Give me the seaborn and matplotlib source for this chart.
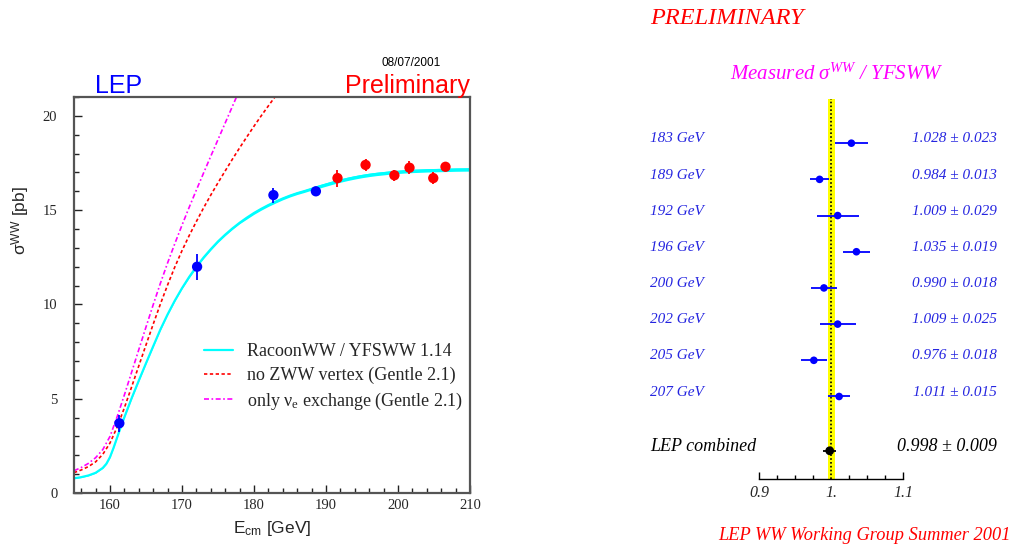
import numpy as np
import pandas as pd
import seaborn as sns
import matplotlib.pyplot as plt
from matplotlib.ticker import MultipleLocator, FixedLocator

# LEP W-pair cross section measurements
E_data = [161.3, 172.1, 182.7, 188.6, 191.6, 195.5, 199.5, 201.6, 204.9, 206.6]
sig_data = [3.7, 12.0, 15.8, 16.0, 16.7, 17.4, 16.85, 17.25, 16.7, 17.3]
sig_err = [0.45, 0.7, 0.4, 0.22, 0.45, 0.3, 0.3, 0.35, 0.3, 0.25]
pt_col = ['#0000ff'] * 4 + ['#ff0000'] * 6

# theory curves
E_racoon = [155, 156, 157, 158, 158.5, 159, 159.5, 160, 160.5, 161, 161.5, 162, 163, 164, 165, 166,
            167, 168, 169, 170, 171, 172, 173, 174, 175, 176, 177, 178, 179, 180, 181, 182, 183,
            184, 185, 186, 187, 188, 189, 190, 191, 192, 193, 194, 195, 196, 197, 198, 199, 200,
            201, 202, 204, 206, 208, 210]
sig_racoon = [0.78, 0.84, 0.93, 1.07, 1.2, 1.33, 1.55, 1.9, 2.4, 2.95, 3.5, 4.02, 5.02, 5.96, 6.88, 7.78,
              8.67, 9.47, 10.2, 10.86, 11.46, 12.0, 12.49, 12.93, 13.34, 13.7, 14.03, 14.33, 14.6,
              14.85, 15.07, 15.27, 15.45, 15.62, 15.77, 15.9, 16.01, 16.13, 16.25, 16.36, 16.47,
              16.57, 16.66, 16.74, 16.81, 16.87, 16.92, 16.96, 17.0, 17.03, 17.06, 17.08, 17.11,
              17.13, 17.15, 17.16]
band_racoon = [0.02] * 12 + [0.03] * 8 + [0.05] * 8 + [0.07] * 10 + [0.09] * 18

E_nozww = [155, 156, 157, 158, 159, 160, 161, 162, 163, 164, 165, 166, 167, 168, 169, 170, 171,
           172, 173, 174, 175, 176, 177, 178, 179, 180, 181, 182, 183]
sig_nozww = [1.08, 1.22, 1.4, 1.65, 2.05, 2.65, 3.5, 4.52, 5.62, 6.74, 7.85, 8.95, 10.02, 11.03,
             11.98, 12.85, 13.65, 14.4, 15.12, 15.8, 16.45, 17.08, 17.7, 18.3, 18.88, 19.45, 20.0,
             20.53, 21.05]

E_nue = [155, 156, 157, 158, 159, 160, 161, 162, 163, 164, 165, 166, 167, 168, 169, 170, 171,
         172, 173, 174, 175, 176, 177, 178]
sig_nue = [1.18, 1.35, 1.57, 1.87, 2.3, 3.0, 4.05, 5.2, 6.4, 7.6, 8.8, 9.98, 11.12, 12.2, 13.22,
           14.2, 15.15, 16.07, 16.97, 17.86, 18.74, 19.62, 20.5, 21.38]

# ratio to YFSWW per energy
ratio_labels = ['183 GeV', '189 GeV', '192 GeV', '196 GeV', '200 GeV', '202 GeV', '205 GeV', '207 GeV']
ratio_val = [1.028, 0.984, 1.009, 1.035, 0.990, 1.009, 0.976, 1.011]
ratio_err = [0.023, 0.013, 0.029, 0.019, 0.018, 0.025, 0.018, 0.015]
comb_val = 0.998
comb_err = 0.009

sns.set_theme(style='ticks')
plt.rcParams['font.family'] = ['Liberation Sans', 'DejaVu Sans']
plt.rcParams['mathtext.fontset'] = 'custom'
plt.rcParams['mathtext.rm'] = 'Liberation Sans'
plt.rcParams['mathtext.sf'] = 'Liberation Serif'
plt.rcParams['mathtext.it'] = 'Liberation Serif:italic'

fig = plt.figure(figsize=(10.12, 5.45), dpi=100)
fig.patch.set_facecolor('white')

# ---------------- left panel ----------------
ax = fig.add_axes([0.0731, 0.0954, 0.3913, 0.7266])
ax.set_facecolor('white')

ax.fill_between(E_racoon, np.array(sig_racoon) - np.array(band_racoon),
                np.array(sig_racoon) + np.array(band_racoon), color='#00ffff', lw=0, zorder=2)
sns.lineplot(x=E_racoon, y=sig_racoon, ax=ax, color='#00ffff', lw=1.6, zorder=2,
             label='RacoonWW / YFSWW 1.14')
sns.lineplot(x=E_nozww, y=sig_nozww, ax=ax, color='#ff0000', lw=1.2, zorder=2,
             linestyle=(0, (2, 1.5)), label='no ZWW vertex (Gentle 2.1)')
sns.lineplot(x=E_nue, y=sig_nue, ax=ax, color='#ff00ff', lw=1.2, zorder=2,
             linestyle=(0, (3, 1.5, 1, 1.5)), label=r'only ν$_{\mathsf{e}}$ exchange (Gentle 2.1)')

for x, y, e, c in zip(E_data, sig_data, sig_err, pt_col):
    ax.errorbar(x, y, yerr=e, fmt='none', ecolor=c, elinewidth=1.3, zorder=3)
df_pts = pd.DataFrame({'E': E_data, 'sig': sig_data, 'col': pt_col})
sns.scatterplot(data=df_pts, x='E', y='sig', hue='col', palette={'#0000ff': '#0000ff', '#ff0000': '#ff0000'},
                s=55, edgecolor='none', ax=ax, zorder=4, legend=False)

ax.set_xlim(155, 210)
ax.set_ylim(0, 21)
ax.xaxis.set_major_locator(MultipleLocator(10))
ax.xaxis.set_minor_locator(MultipleLocator(2))
ax.yaxis.set_major_locator(MultipleLocator(5))
ax.yaxis.set_minor_locator(MultipleLocator(1))
ax.tick_params(which='both', direction='in', color='#222222', width=1, top=False, right=False)
ax.tick_params(which='major', length=6)
ax.tick_params(which='minor', length=3.5)
ax.tick_params(axis='y', pad=12)
ax.tick_params(axis='x', pad=4)
for lab in ax.get_xticklabels() + ax.get_yticklabels():
    lab.set_fontfamily('Liberation Serif')
    lab.set_fontsize(10.5)
for sp in ax.spines.values():
    sp.set_color('#555555')
    sp.set_linewidth(1.6)

ax.set_xlabel(r'E$_{\mathrm{cm}}$ [GeV]', fontsize=12.5)
ax.xaxis.set_label_coords(0.5, -0.066)
ax.set_ylabel(r'σ$^{\mathrm{WW}}$ [pb]', fontsize=12.5)
ax.yaxis.set_label_coords(-0.105, 0.689)

leg = ax.legend(loc='upper left', bbox_to_anchor=(0.328, 0.378), frameon=False,
                prop={'family': 'Liberation Serif', 'size': 13}, handlelength=1.6,
                handletextpad=0.8, labelspacing=0.36, borderpad=0, borderaxespad=0)

fig.text(0.0939, 0.8294, 'LEP', color='#0000ff', fontsize=18, ha='left', va='baseline')
fig.text(0.4644, 0.8294, 'Preliminary', color='#ff0000', fontsize=18, ha='right', va='baseline')
fig.text(0.4358, 0.879, '08/07/2001', color='black', fontsize=8.5, ha='right', va='baseline')

# ---------------- right panel ----------------
ax2 = fig.add_axes([0.6324, 0.1211, 0.3676, 0.6972])
ax2.set_facecolor('none')
rows = np.arange(len(ratio_val))
comb_row = len(ratio_val) - 1 + 1.5

ax2.axvspan(0.995, 1.005, color='#ffff00', lw=0, zorder=1)
ax2.axvline(1.0, color='black', lw=1.2, ls=(0, (1, 1.3)), zorder=2)

ax2.errorbar(ratio_val, rows, xerr=ratio_err, fmt='none', ecolor='#0000ff', elinewidth=1.3, zorder=3)
sns.scatterplot(x=ratio_val, y=rows, color='#0000ff', s=30, edgecolor='none', ax=ax2, zorder=4)
ax2.errorbar([comb_val], [comb_row], xerr=[comb_err], fmt='none', ecolor='black', elinewidth=1.3,
             capsize=0, zorder=3)
sns.scatterplot(x=[comb_val], y=[comb_row], color='black', s=40, edgecolor='none', ax=ax2, zorder=4)

txt_style = dict(family='Liberation Serif', style='italic', va='center')
for r, lab, v, e in zip(rows, ratio_labels, ratio_val, ratio_err):
    ax2.text(0.749, r - 0.12, lab, color='#2525e0', fontsize=11, ha='left', **txt_style)
    ax2.text(1.2297, r - 0.12, f'{v:.3f} ± {e:.3f}', color='#2525e0', fontsize=11, ha='right', **txt_style)
ax2.text(0.749, comb_row - 0.12, 'LEP combined', color='black', fontsize=13, ha='left', **txt_style)
ax2.text(1.2297, comb_row - 0.12, f'{comb_val:.3f} ± {comb_err:.3f}', color='black', fontsize=13,
         ha='right', **txt_style)

ax2.set_xlim(0.7352, 1.2505)
ax2.set_ylim(9.28, -1.22)
for side in ['top', 'left', 'right']:
    ax2.spines[side].set_visible(False)
ax2.spines['bottom'].set_bounds(0.9, 1.1)
ax2.spines['bottom'].set_color('black')
ax2.spines['bottom'].set_linewidth(1.0)
ax2.set_yticks([])
ax2.xaxis.set_major_locator(FixedLocator([0.9, 1.0, 1.1]))
ax2.xaxis.set_minor_locator(FixedLocator([0.925, 0.95, 0.975, 1.025, 1.05, 1.075]))
ax2.set_xticklabels(['0.9', '1.', '1.1'])
ax2.tick_params(axis='x', which='major', direction='in', length=5, width=1, color='black', pad=4)
ax2.tick_params(axis='x', which='minor', direction='in', length=3, width=1, color='black')
for lab in ax2.get_xticklabels():
    lab.set_fontfamily('Liberation Serif')
    lab.set_fontstyle('italic')
    lab.set_fontsize(11.5)
ax2.set_xlabel('')
ax2.set_ylabel('')

fig.text(0.8268, 0.864, r'Measured σ$^{\mathit{WW}}$ / YFSWW', color='#ff00ff', fontsize=15,
         ha='center', va='center', family='Liberation Serif', style='italic')
fig.text(0.6423, 0.966, 'PRELIMINARY', color='#ff0000', fontsize=17.5, ha='left', va='center',
         family='Liberation Serif', style='italic')
fig.text(0.999, 0.0183, 'LEP WW Working Group Summer 2001', color='#ff0000', fontsize=13.2,
         ha='right', va='center', family='Liberation Serif', style='italic')

fig.savefig('out.png', dpi=100, facecolor='white')
